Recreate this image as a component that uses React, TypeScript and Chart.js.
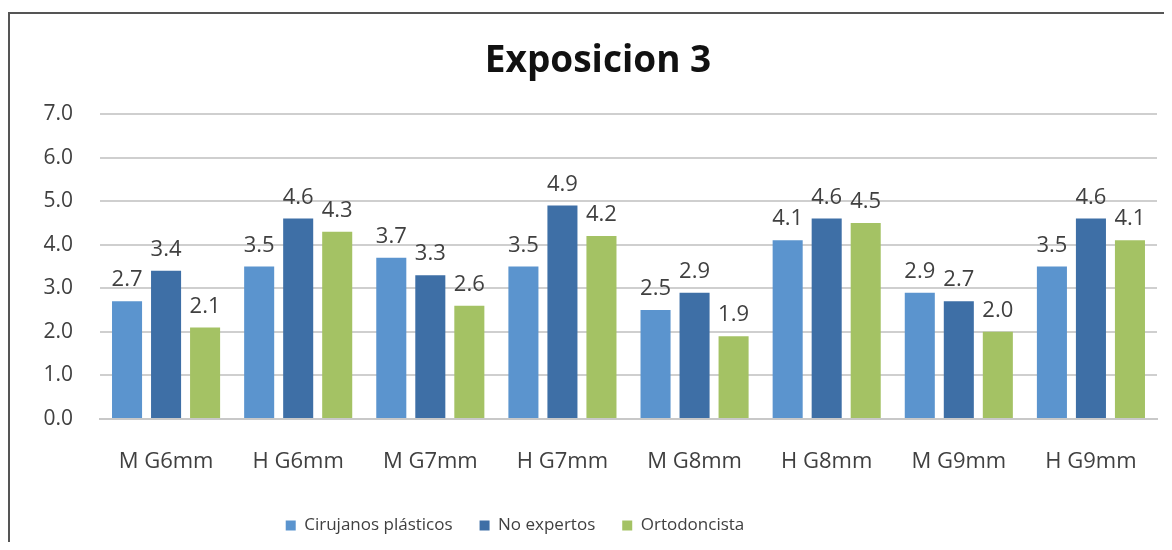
import React, { useEffect, useRef } from "react";
import { Chart, registerables } from "chart.js";

Chart.register(...registerables);

const categories = ["M G6mm", "H G6mm", "M G7mm", "H G7mm", "M G8mm", "H G8mm", "M G9mm", "H G9mm"];
const cirujanos = [2.7, 3.5, 3.7, 3.5, 2.5, 4.1, 2.9, 3.5];
const noExpertos = [3.4, 4.6, 3.3, 4.9, 2.9, 4.6, 2.7, 4.6];
const ortodoncista = [2.1, 4.3, 2.6, 4.2, 1.9, 4.5, 2.0, 4.1];
const seriesNames = ["Cirujanos plásticos", "No expertos", "Ortodoncista"];
const yMin = 0;
const yMax = 7;
const yStep = 1;

const FONT = "'Open Sans', 'DejaVu Sans', sans-serif";
const TEXT = "#404040";

const dataLabels = {
  id: "dataLabels",
  afterDatasetsDraw(chart: any) {
    const ctx = chart.ctx;
    ctx.save();
    ctx.font = `22px ${FONT}`;
    ctx.fillStyle = TEXT;
    ctx.textAlign = "center";
    ctx.textBaseline = "alphabetic";
    chart.data.datasets.forEach((ds: any, i: number) => {
      const meta = chart.getDatasetMeta(i);
      meta.data.forEach((el: any, j: number) => {
        ctx.fillText(Number(ds.data[j]).toFixed(1), el.x, el.y - 15);
      });
    });
    ctx.restore();
  },
};

const legendShift = {
  id: "legendShift",
  afterLayout(chart: any) {
    const lg = chart.legend;
    if (lg) {
      lg.left -= 83;
      lg.right -= 83;
    }
  },
};

export default function App() {
  const ref = useRef<HTMLCanvasElement>(null);
  useEffect(() => {
    if (!ref.current) return;
    const chart = new Chart(ref.current, {
      type: "bar",
      data: {
        labels: categories,
        datasets: [
          { label: seriesNames[0], data: cirujanos, backgroundColor: "#5B94CE" },
          { label: seriesNames[1], data: noExpertos, backgroundColor: "#3E6FA6" },
          { label: seriesNames[2], data: ortodoncista, backgroundColor: "#A4C264" },
        ],
      },
      options: {
        responsive: false,
        animation: false,
        events: [],
        datasets: { bar: { categoryPercentage: 0.886, barPercentage: 0.77 } },
        layout: { padding: { left: 39, right: 15, top: 10, bottom: 6 } },
        plugins: {
          tooltip: { enabled: false },
          title: {
            display: true,
            text: "Exposicion 3",
            color: "#111111",
            font: { family: FONT, size: 37, weight: "bold" },
            padding: { top: 29.4, bottom: 30.2 },
          },
          legend: {
            position: "bottom",
            labels: {
              boxWidth: 10,
              boxHeight: 10,
              padding: 27,
              color: TEXT,
              font: { family: FONT, size: 17 },
            },
          },
        },
        scales: {
          x: {
            afterFit(scale: any) {
              scale.height = 71;
            },
            grid: { display: false, drawTicks: false },
            border: { display: true, color: "#c8c8c8", width: 2 },
            ticks: { color: TEXT, padding: 30, font: { family: FONT, size: 22 }, maxRotation: 0 },
          },
          y: {
            min: yMin,
            max: yMax,
            afterFit(scale: any) {
              scale.width = 61;
            },
            grid: { color: "#cfcfcf", lineWidth: 2, drawTicks: false },
            border: { display: false },
            ticks: {
              stepSize: yStep,
              padding: 27,
              color: TEXT,
              font: { family: FONT, size: 21 },
              callback: (v: any) => Number(v).toFixed(1),
            },
          },
        },
      },
      plugins: [dataLabels, legendShift],
    });
    return () => chart.destroy();
  }, []);

  return (
    <div style={{ position: "relative", width: 1172, height: 550, margin: -8, overflow: "hidden", background: "#fff" }}>
      <div
        style={{
          position: "absolute",
          left: 8,
          top: 12,
          width: 1200,
          height: 600,
          border: "2px solid #555",
          boxSizing: "border-box",
        }}
      />
      <canvas ref={ref} width={1172} height={550} style={{ position: "absolute", left: 0, top: 0, display: "block" }} />
    </div>
  );
}
